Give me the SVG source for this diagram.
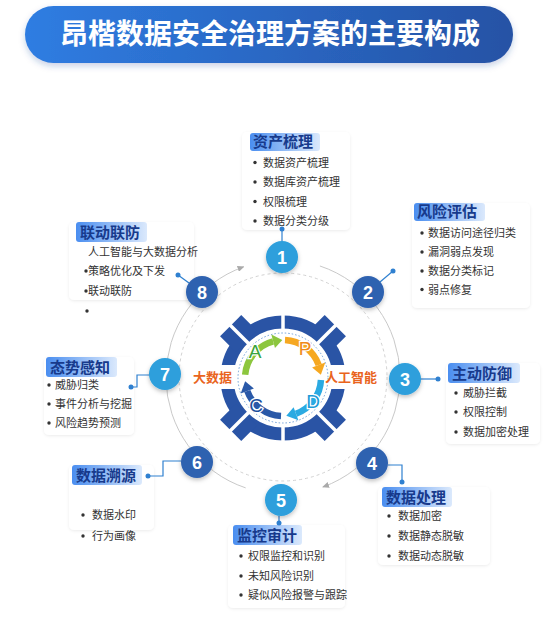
<svg xmlns="http://www.w3.org/2000/svg" width="548" height="629" viewBox="0 0 548 629">
<style>
.title{font-family:"Noto Sans CJK SC","Noto Sans",sans-serif;font-weight:700;font-size:28px;fill:#fff}
.card{fill:#fff;filter:url(#cs)}
.hd{fill:url(#hg)}
.ht{font-family:"Noto Sans CJK SC","Noto Sans",sans-serif;font-weight:700;font-size:15px;fill:#173a8c}
.it{font-family:"Noto Sans CJK SC","Noto Sans",sans-serif;font-size:11px;fill:#333}
.bl{fill:#333}
.nl{fill:#2d9fdc;filter:url(#ns)}
.nd{fill:#2f62b0;filter:url(#ns)}
.nt{font-family:"Liberation Sans",Arial,sans-serif;font-weight:700;font-size:18px;fill:#fff;text-anchor:middle}
.cn{fill:none;stroke:#2f80d0;stroke-width:1.2}
.dot{fill:#2f80d0}
.ring{fill:none;stroke:#c9c9c9;stroke-width:1}
.pd{font-family:"Liberation Sans",Arial,sans-serif;font-size:19px;text-anchor:middle;stroke:#fff;stroke-width:2.5;paint-order:stroke}
.side{font-family:"Noto Sans CJK SC","Noto Sans",sans-serif;font-weight:700;font-size:13px;fill:#e9641d}
</style>
<defs>
<linearGradient id="tg" x1="0" y1="0" x2="1" y2="0"><stop offset="0" stop-color="#2f7de2"/><stop offset="1" stop-color="#2552a5"/></linearGradient>
<linearGradient id="hg" x1="0" y1="0" x2="1" y2="0"><stop offset="0" stop-color="#4a8ef0"/><stop offset="1" stop-color="#dbe9fc"/></linearGradient>
<filter id="cs" x="-10%" y="-10%" width="120%" height="130%"><feDropShadow dx="0" dy="1" stdDeviation="1.5" flood-color="#000" flood-opacity="0.08"/></filter>
<filter id="ns" x="-30%" y="-30%" width="160%" height="170%"><feDropShadow dx="0" dy="2" stdDeviation="2" flood-color="#000" flood-opacity="0.25"/></filter>
<filter id="ts" x="-5%" y="-20%" width="110%" height="160%"><feDropShadow dx="0" dy="3" stdDeviation="3" flood-color="#1d4a9a" flood-opacity="0.25"/></filter>
<marker id="ah" markerWidth="7" markerHeight="6" refX="6" refY="3" orient="auto" markerUnits="userSpaceOnUse"><path d="M0,0 L7,3 L0,6 z" fill="#aaa"/></marker>
</defs>
<rect width="548" height="629" fill="#fff"/>
<g id="title">
<rect x="25" y="6" width="488" height="57" rx="28.5" fill="url(#tg)" filter="url(#ts)"/>
<text class="title" x="270" y="44" text-anchor="middle">昂楷数据安全治理方案的主要构成</text>
</g>
<g id="rings">
<circle cx="283" cy="377" r="104" fill="none" stroke="#d2d2d2" stroke-width="1" stroke-dasharray="3 3"/>
<path class="ring" d="M319.93,265.98 A117,117 0 0 1 323.02,486.94" marker-end="url(#ah)"/>
<path class="ring" d="M245.68,487.89 A117,117 0 0 1 243.56,266.84" marker-end="url(#ah)"/>
</g>
<g id="gear" transform="translate(283,378)">
<circle r="56" fill="none" stroke="#2a54a5" stroke-width="13"/>
<g fill="#2a54a5">
<rect x="52" y="-15" width="22" height="30" transform="rotate(45)"/>
<rect x="52" y="-15" width="22" height="30" transform="rotate(135)"/>
<rect x="52" y="-15" width="22" height="30" transform="rotate(225)"/>
<rect x="52" y="-15" width="22" height="30" transform="rotate(315)"/>
</g>
<g stroke="#fff" stroke-width="3.5">
<line x1="48" y1="0" x2="82" y2="0" transform="rotate(45)"/>
<line x1="48" y1="0" x2="82" y2="0" transform="rotate(90)"/>
<line x1="48" y1="0" x2="82" y2="0" transform="rotate(135)"/>
<line x1="48" y1="0" x2="82" y2="0" transform="rotate(225)"/>
<line x1="48" y1="0" x2="82" y2="0" transform="rotate(270)"/>
<line x1="48" y1="0" x2="82" y2="0" transform="rotate(315)"/>
</g>
<rect x="47" y="-13" width="22" height="24" fill="#fff"/>
<rect x="-69" y="-13" width="22" height="24" fill="#fff"/>
<circle r="45" fill="none" stroke="#6d9fd8" stroke-width="1" stroke-dasharray="1.5 2"/>
<g stroke-width="6.5" fill="none">
<path d="M-37.85,-3.31 A38,38 0 0 1 -9.83,-36.70" stroke="#8cc63e"/>
<path d="M1.99,-37.95 A38,38 0 0 1 35.71,-13.0" stroke="#f6a821"/>
<path d="M37.95,1.99 A38,38 0 0 1 13.0,35.71" stroke="#2aaae2"/>
<path d="M-1.99,37.95 A38,38 0 0 1 -35.71,13.0" stroke="#2a59a8"/>
</g>
<path d="M-8.02,-29.94 L-11.65,-43.47 L-0.66,-37.99 z" fill="#8cc63e"/>
<path d="M29.13,-10.60 L42.29,-15.39 L37.85,-3.31 z" fill="#f6a821"/>
<path d="M10.60,29.13 L15.39,42.29 L3.31,37.85 z" fill="#2aaae2"/>
<path d="M-29.13,10.60 L-42.29,15.39 L-37.85,3.31 z" fill="#2a59a8"/>
<text class="pd" x="-28" y="-20" fill="#3ba43c">A</text>
<text class="pd" x="22" y="-23" fill="#ef8a1a">P</text>
<text class="pd" x="30" y="30" fill="#1e9bd7">D</text>
<text class="pd" x="-27" y="34" fill="#1d4f9c">C</text>
<text class="side" x="-90" y="4">大数据</text>
<text class="side" x="42" y="4">人工智能</text>
</g>
<g id="box1">
<rect class="card" x="242" y="132" width="108" height="98" rx="5"/>
<rect class="hd" x="250" y="133" width="70" height="18" rx="3"/>
<text class="ht" x="253" y="147">资产梳理</text>
<circle class="bl" cx="255" cy="162.5" r="1.7"/><text class="it" x="263" y="166.5">数据资产梳理</text>
<circle class="bl" cx="255" cy="182" r="1.7"/><text class="it" x="263" y="186">数据库资产梳理</text>
<circle class="bl" cx="255" cy="201.5" r="1.7"/><text class="it" x="263" y="205.5">权限梳理</text>
<circle class="bl" cx="255" cy="221" r="1.7"/><text class="it" x="263" y="225">数据分类分级</text>
</g>
<g id="box2">
<rect class="card" x="412" y="203" width="118" height="105" rx="5"/>
<rect class="hd" x="414" y="203" width="71" height="18" rx="3"/>
<text class="ht" x="417" y="217">风险评估</text>
<circle class="bl" cx="422" cy="233" r="1.7"/><text class="it" x="428" y="237">数据访问途径归类</text>
<circle class="bl" cx="422" cy="252" r="1.7"/><text class="it" x="428" y="256">漏洞弱点发现</text>
<circle class="bl" cx="422" cy="271" r="1.7"/><text class="it" x="428" y="275">数据分类标记</text>
<circle class="bl" cx="422" cy="289.5" r="1.7"/><text class="it" x="428" y="293.5">弱点修复</text>
</g>
<g id="box3">
<rect class="card" x="446" y="363" width="94" height="81" rx="5"/>
<rect class="hd" x="448" y="363" width="72" height="20" rx="3"/>
<text class="ht" x="452" y="379">主动防御</text>
<circle class="bl" cx="456" cy="393" r="1.7"/><text class="it" x="463" y="397">威胁拦截</text>
<circle class="bl" cx="456" cy="412" r="1.7"/><text class="it" x="463" y="416">权限控制</text>
<circle class="bl" cx="456" cy="432" r="1.7"/><text class="it" x="463" y="436">数据加密处理</text>
</g>
<g id="box4">
<rect class="card" x="378" y="487" width="112" height="78" rx="5"/>
<rect class="hd" x="382" y="487" width="70" height="20" rx="3"/>
<text class="ht" x="386" y="503">数据处理</text>
<circle class="bl" cx="389" cy="516" r="1.7"/><text class="it" x="398" y="520">数据加密</text>
<circle class="bl" cx="389" cy="536" r="1.7"/><text class="it" x="398" y="540">数据静态脱敏</text>
<circle class="bl" cx="389" cy="556" r="1.7"/><text class="it" x="398" y="560">数据动态脱敏</text>
</g>
<g id="box5">
<rect class="card" x="228" y="525" width="117" height="83" rx="5"/>
<rect class="hd" x="233" y="525" width="69" height="20" rx="3"/>
<text class="ht" x="237" y="541">监控审计</text>
<circle class="bl" cx="241" cy="556" r="1.7"/><text class="it" x="248" y="560">权限监控和识别</text>
<circle class="bl" cx="241" cy="576" r="1.7"/><text class="it" x="248" y="580">未知风险识别</text>
<circle class="bl" cx="241" cy="595" r="1.7"/><text class="it" x="248" y="599">疑似风险报警与跟踪</text>
</g>
<g id="box6">
<rect class="card" x="69" y="465" width="85" height="65" rx="5"/>
<rect class="hd" x="72" y="465" width="70" height="20" rx="3"/>
<text class="ht" x="76" y="481">数据溯源</text>
<circle class="bl" cx="83" cy="515" r="1.7"/><text class="it" x="92" y="519">数据水印</text>
<circle class="bl" cx="83" cy="536" r="1.7"/><text class="it" x="92" y="540">行为画像</text>
</g>
<g id="box7">
<rect class="card" x="44" y="357" width="90" height="78" rx="5"/>
<rect class="hd" x="46" y="357" width="71" height="20" rx="3"/>
<text class="ht" x="50" y="373">态势感知</text>
<circle class="bl" cx="49" cy="385" r="1.7"/><text class="it" x="55" y="389">威胁归类</text>
<circle class="bl" cx="49" cy="404" r="1.7"/><text class="it" x="55" y="408">事件分析与挖掘</text>
<circle class="bl" cx="49" cy="423" r="1.7"/><text class="it" x="55" y="427">风险趋势预测</text>
</g>
<g id="box8">
<rect class="card" x="69" y="222" width="125" height="78" rx="5"/>
<rect class="hd" x="76" y="222" width="71" height="20" rx="3"/>
<text class="ht" x="80" y="238">联动联防</text>
<text class="it" x="88" y="256">人工智能与大数据分析</text>
<circle class="bl" cx="86" cy="271" r="1.7"/><text class="it" x="88" y="275">策略优化及下发</text>
<circle class="bl" cx="86" cy="291" r="1.7"/><text class="it" x="88" y="295">联动联防</text>
<circle class="bl" cx="87" cy="311" r="1.7"/>
</g>
<g id="connectors">
<line class="cn" x1="282" y1="229" x2="282" y2="241"/><circle class="dot" cx="282" cy="229" r="2.5"/>
<line class="cn" x1="380" y1="282" x2="393" y2="271"/><circle class="dot" cx="393" cy="271" r="2.5"/>
<line class="cn" x1="421" y1="379" x2="438" y2="379"/><circle class="dot" cx="438" cy="379" r="2.5"/>
<polyline class="cn" points="388,465 402,465 402,482"/><circle class="dot" cx="402" cy="482" r="2.5"/>
<line class="cn" x1="279" y1="516" x2="279" y2="523"/><circle class="dot" cx="279" cy="523" r="2.5"/>
<polyline class="cn" points="148,476 163,476 163,461 181,461"/><circle class="dot" cx="148" cy="476" r="2.5"/>
<polyline class="cn" points="131,387 137,387 137,375 150,375"/><circle class="dot" cx="131" cy="387" r="2.5"/>
<line class="cn" x1="178" y1="275" x2="189" y2="283"/><circle class="dot" cx="178" cy="275" r="2.5"/>
</g>
<g id="n1"><circle class="nl" cx="282" cy="257" r="16"/><text class="nt" x="282" y="263.5">1</text></g>
<g id="n2"><circle class="nd" cx="368" cy="292" r="16"/><text class="nt" x="368" y="298.5">2</text></g>
<g id="n3"><circle class="nl" cx="405" cy="379" r="16"/><text class="nt" x="405" y="385.5">3</text></g>
<g id="n4"><circle class="nd" cx="372" cy="463" r="16"/><text class="nt" x="372" y="469.5">4</text></g>
<g id="n5"><circle class="nl" cx="281" cy="500" r="16"/><text class="nt" x="281" y="506.5">5</text></g>
<g id="n6"><circle class="nd" cx="197" cy="462" r="16"/><text class="nt" x="197" y="468.5">6</text></g>
<g id="n7"><circle class="nl" cx="165" cy="374" r="16"/><text class="nt" x="165" y="380.5">7</text></g>
<g id="n8"><circle class="nd" cx="202" cy="292" r="16"/><text class="nt" x="202" y="298.5">8</text></g>
</svg>
